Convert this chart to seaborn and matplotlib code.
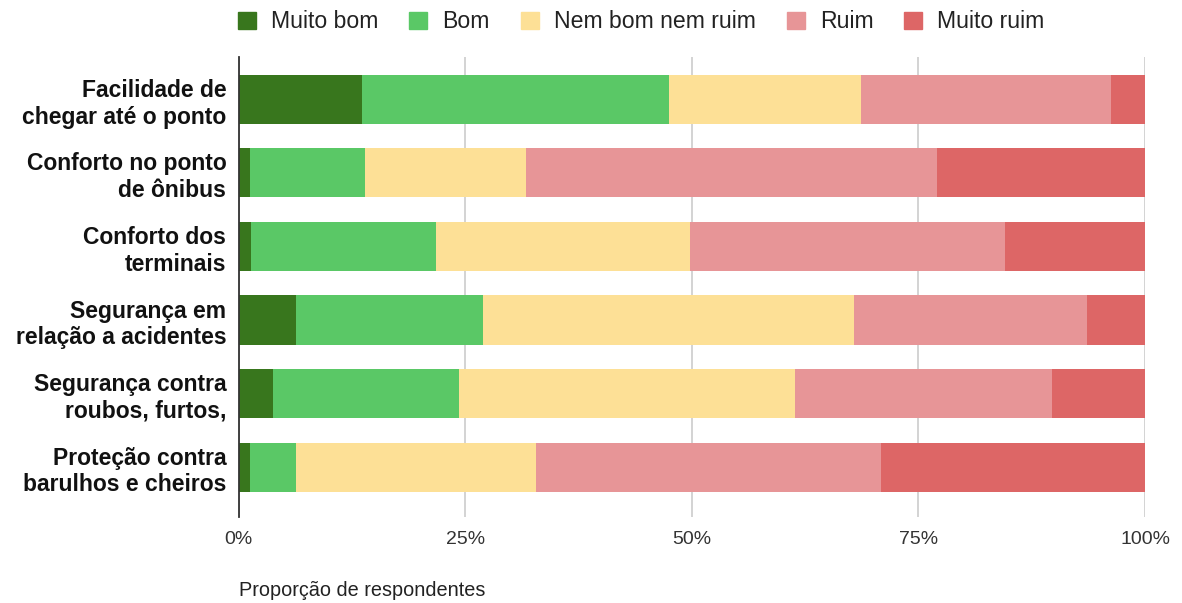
import matplotlib
matplotlib.use("Agg")
import matplotlib.pyplot as plt
import seaborn as sns
import numpy as np
import pandas as pd
from matplotlib.patches import Patch

categories = [
    "Facilidade de\nchegar até o ponto",
    "Conforto no ponto\nde ônibus",
    "Conforto dos\nterminais",
    "Segurança em\nrelação a acidentes",
    "Segurança contra\nroubos, furtos,",
    "Proteção contra\nbarulhos e cheiros",
]
series_names = ["Muito bom", "Bom", "Nem bom nem ruim", "Ruim", "Muito ruim"]
muito_bom = [13.6, 1.2, 1.4, 6.3, 3.8, 1.2]
bom = [33.9, 12.7, 20.4, 20.7, 20.5, 5.1]
nem_bom_nem_ruim = [21.2, 17.8, 28.0, 40.9, 37.1, 26.5]
ruim = [27.5, 45.4, 34.8, 25.7, 28.3, 38.1]
muito_ruim = [3.8, 22.9, 15.4, 6.4, 10.3, 29.1]
xticks = [0, 25, 50, 75, 100]
xtick_labels = ["0%", "25%", "50%", "75%", "100%"]
colors = ["#38761d", "#5ac866", "#fde096", "#e79597", "#dd6666"]

plt.rcParams["font.family"] = ["Liberation Sans", "DejaVu Sans"]

df = pd.DataFrame({
    "cat": categories,
    "Muito bom": muito_bom,
    "Bom": bom,
    "Nem bom nem ruim": nem_bom_nem_ruim,
    "Ruim": ruim,
    "Muito ruim": muito_ruim,
})
cum = df[series_names].cumsum(axis=1)

fig = plt.figure(figsize=(11.82, 6.03), dpi=100)
ax = fig.add_axes([0.2020, 0.1426, 0.7667, 0.7629])

# draw from largest cumulative to smallest so segments overlay
for name, col in reversed(list(zip(series_names, colors))):
    sns.barplot(x=cum[name], y=df["cat"], order=categories, orient="h",
                color=col, saturation=1, width=0.667, ax=ax, linewidth=0)

ax.set_xlim(0, 100)
ax.set_ylim(5.68, -0.578)
ax.set_xticks(xticks)
ax.set_xticklabels(xtick_labels)
ax.set_xlabel("")
ax.set_ylabel("")
ax.set_axisbelow(True)
ax.xaxis.grid(True, color="#cccccc", linewidth=1.2)
ax.yaxis.grid(False)
for s in ["top", "right", "bottom"]:
    ax.spines[s].set_visible(False)
ax.spines["left"].set_color("#333333")
ax.spines["left"].set_linewidth(1.3)
ax.spines["left"].set_zorder(5)
ax.tick_params(axis="x", length=0, pad=10, labelsize=14, labelcolor="#333333")
ax.tick_params(axis="y", length=0, pad=9, labelsize=16.5)
for lbl in ax.get_yticklabels():
    lbl.set_fontweight("bold")
    lbl.set_multialignment("right")
    lbl.set_linespacing(1.2)
    lbl.set_color("#111111")

handles = [Patch(facecolor=c, edgecolor=c) for c in colors]
leg = fig.legend(handles, series_names, loc="center", bbox_to_anchor=(0.5425, 1 - 22 / 603),
                 ncol=5, frameon=False, fontsize=16.6, handlelength=0.78, handleheight=0.78,
                 handletextpad=0.65, columnspacing=1.35)
for t in leg.get_texts():
    t.set_color("#222222")

fig.text(239 / 1182, 1 - 590 / 603, "Proporção de respondentes", ha="left", va="center",
         fontsize=14.3, color="#222222")

fig.savefig("out.png", dpi=100)
